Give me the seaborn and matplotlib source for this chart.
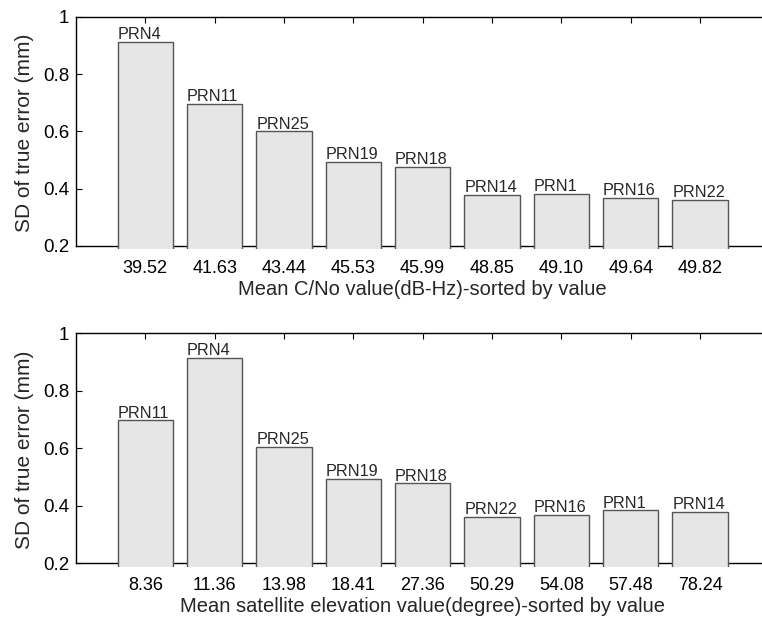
import matplotlib
matplotlib.use("Agg")
import matplotlib.pyplot as plt
import pandas as pd
import seaborn as sns

# values
prn_cn0 = ['PRN4', 'PRN11', 'PRN25', 'PRN19', 'PRN18', 'PRN14', 'PRN1', 'PRN16', 'PRN22']
cn0_labels = ['39.52', '41.63', '43.44', '45.53', '45.99', '48.85', '49.10', '49.64', '49.82']
sd_cn0 = [0.913, 0.696, 0.600, 0.494, 0.477, 0.378, 0.383, 0.367, 0.361]

prn_elev = ['PRN11', 'PRN4', 'PRN25', 'PRN19', 'PRN18', 'PRN22', 'PRN16', 'PRN1', 'PRN14']
elev_labels = ['8.36', '11.36', '13.98', '18.41', '27.36', '50.29', '54.08', '57.48', '78.24']
sd_elev = [0.696, 0.913, 0.604, 0.494, 0.477, 0.361, 0.367, 0.383, 0.378]

sns.set_style("white")
plt.rcParams['font.family'] = ['Liberation Sans', 'DejaVu Sans']

fig = plt.figure(figsize=(7.62, 6.24), dpi=100)
ax1 = fig.add_axes([0.0997, 0.6003, 0.91, 0.3725])
ax2 = fig.add_axes([0.0997, 0.0921, 0.91, 0.3742])


def draw_panel(ax, prns, ticks, sd, xlabel):
    df = pd.DataFrame({'tick': ticks, 'sd': sd, 'prn': prns})
    sns.barplot(data=df, x='tick', y='sd', order=ticks, color='#e6e6e6',
                saturation=1, width=0.8, edgecolor='#555555', linewidth=1.0,
                zorder=3, ax=ax)
    for i, (p, h) in enumerate(zip(prns, sd)):
        ax.annotate(p, (i - 0.4, h), xytext=(0, 2), textcoords='offset points',
                    ha='left', va='baseline', fontsize=11.7)
    ax.set_xlim(-1, 9)
    ax.set_ylim(0.188, 1.0)
    ax.set_yticks([0.2, 0.4, 0.6, 0.8, 1.0])
    ax.set_yticklabels(['0.2', '0.4', '0.6', '0.8', '1'])
    ax.spines['bottom'].set_position(('data', 0.2))
    ax.spines['left'].set_bounds(0.2, 1.0)
    for s in ax.spines.values():
        s.set_color('black')
        s.set_linewidth(1.0)
    ax.tick_params(direction='in', length=4, width=0.8, top=True, bottom=True,
                   left=True, right=False, labelsize=13, pad=10, colors='black')
    ax.tick_params(axis='y', pad=5, labelsize=13.5)
    ax.set_xlabel(xlabel, fontsize=14.5, labelpad=2)
    ax.set_ylabel('SD of true error (mm)', fontsize=15, labelpad=6)


draw_panel(ax1, prn_cn0, cn0_labels, sd_cn0, 'Mean C/No value(dB-Hz)-sorted by value')
draw_panel(ax2, prn_elev, elev_labels, sd_elev,
           'Mean satellite elevation value(degree)-sorted by value')

fig.savefig('out.png', dpi=100)
